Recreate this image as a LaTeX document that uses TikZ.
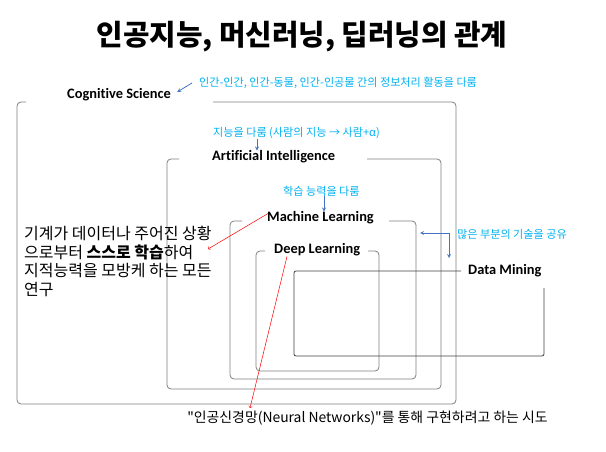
\documentclass[tikz,border=0pt]{standalone}
\usepackage{fontspec}
\setmainfont{Carlito}[Ligatures=NoCommon]
\newfontfamily\kr{Noto Sans CJK KR}
\definecolor{skyblue}{HTML}{00B0F0}
\definecolor{arrowblue}{HTML}{4472C4}
\definecolor{boxgray}{HTML}{7F7F7F}
\tikzset{
	field/.style={inner sep=0pt,font=\bfseries\fontsize{14.4}{17}\selectfont},
	note/.style={inner sep=0pt,text=skyblue,font=\kr\fontsize{11.1}{13}\selectfont},
	frame/.style={draw=boxgray,line width=0.8pt,rounded corners=4pt},
	bluearrow/.style={-stealth,draw=arrowblue,line width=0.8pt},
	redarrow/.style={->,draw=red,line width=0.5pt}
}

\begin{document}
\begin{tikzpicture}[x=1pt,y=-1pt]
		\useasboundingbox (0,0) rectangle (606,452);
		% \draw[step=50] (0,0) grid (606,452);
		\node[font=\kr\bfseries\fontsize{28.8}{32}\selectfont] (title) at (302,37){인공지능, 머신러닝, 딥러닝의 관계};
		% frames
		\draw[frame](26,102) -- (17,102) -- (17,404) -- (456,404) -- (456,102) -- (213,102);
		\draw[frame](179,159) -- (167,159) -- (167,389) -- (441,389) -- (441,159) -- (367,159);
		\draw[frame](242,221) -- (230,221) -- (230,379) -- (416,379) -- (416,221) -- (389,221);
		\draw[frame](265,251) -- (256,251) -- (256,371) -- (379,371) -- (379,251) -- (368,251);
		\draw[frame,draw=black!75,rounded corners=2pt](461,271) -- (294,271) -- (294,356) -- (544,356) -- (544,288);
		% labels
		\node[field,anchor=west] (cs) at (67,95){Cognitive Science};
		\node[field,anchor=west] (ai) at (212,157){Artificial Intelligence};
		\node[field,anchor=west] (ml) at (267,218){Machine Learning};
		\node[field,anchor=west] (dl) at (274,250){Deep Learning};
		\node[field,anchor=west] (dm) at (468,271){Data Mining};
		% notes
		\node[note,anchor=west] (csnote) at (199,83){인간-인간, 인간-동물, 인간-인공물 간의 정보처리 활동을 다룸};
		\node[note,anchor=west] (ainote) at (213,133){지능을 다룸 (사람의 지능 → 사람+α)};
		\node[note,anchor=west] (mlnote) at (283,191){학습 능력을 다룸};
		\node[note,anchor=west] (dmnote) at (457,234){많은 부분의 기술을 공유};
		\node[anchor=west,inner sep=0pt,align=left,font=\kr\fontsize{16}{18.6}\selectfont] (learn) at (24,261.5){기계가 데이터나 주어진 상황\\으로부터 \textbf{스스로 학습}하여\\지적능력을 모방케 하는 모든\\연구};
		\node[inner sep=0pt,font=\kr\fontsize{13.9}{16}\selectfont] (neural) at (367.5,418){"인공신경망(Neural Networks)"를 통해 구현하려고 하는 시도};
		% arrows
		\draw[bluearrow] ([xshift=-7pt]csnote.west) -- ([shift={(6pt,3pt)}]cs.east);
		\coordinate (aiarrow) at (257,0);
		\draw[bluearrow] (aiarrow |- ainote.south) -- (aiarrow |- ai.north);
		\coordinate (mlarrow) at (324,0);
		\draw[bluearrow] (mlarrow |- mlnote.south) -- (mlarrow |- ml.north);
		\coordinate (shareL) at (420,233);
		\coordinate (shareR) at (449,233);
		\coordinate (shareD) at (449,258);
		\draw[bluearrow,stealth-stealth] (shareL) -- (shareR) -- (shareD);
		\coordinate (learntip) at (208,249);
		\draw[redarrow] ([shift={(1pt,-2pt)}]ml.north west) -- (learntip);
		\coordinate (neuraltip) at (250,408);
		\draw[redarrow] ([xshift=13pt]dl.south west) -- (neuraltip);
\end{tikzpicture}
\end{document}
